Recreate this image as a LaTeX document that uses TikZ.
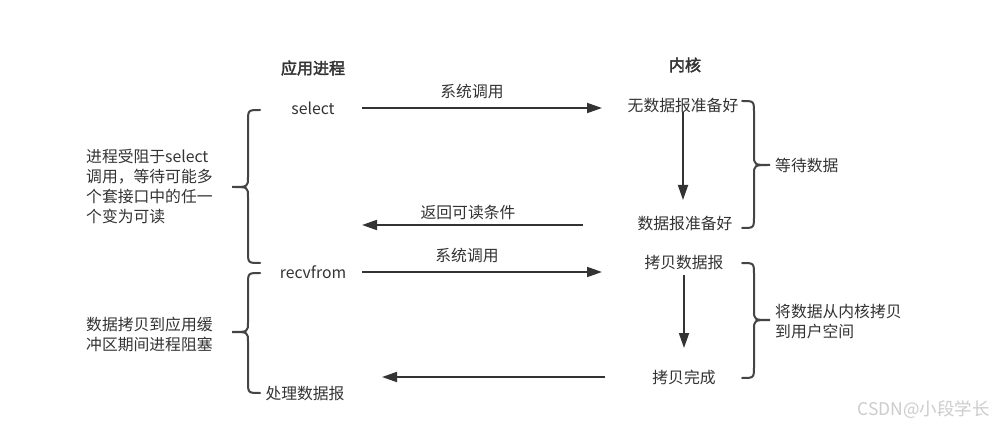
\documentclass[tikz,border=0pt]{standalone}
\usepackage{fontspec}
\setmainfont{Noto Sans CJK SC}[AutoFakeBold=2.5]
\usetikzlibrary{arrows.meta,calc}
\definecolor{ink}{HTML}{333333}
\definecolor{brc}{HTML}{444444}
\newcommand\mybrace[6]{\draw[bracestyle] (#1,#4) .. controls (#2,#4) .. (#2,{#4+12}) -- (#2,{#5-10}) .. controls (#2,#5) .. (#3,#5) .. controls (#2,#5) .. (#2,{#5+10}) -- (#2,{#6-12}) .. controls (#2,#6) .. (#1,#6);}
\begin{document}
\begin{tikzpicture}[x=1pt,y=-1pt,
  txt/.style={inner sep=0pt,text=ink,font=\fontsize{15.8}{20}\selectfont},
  head/.style={txt,font=\fontsize{16}{20}\selectfont\bfseries},
  multi/.style={txt,anchor=west,align=left},
  arr/.style={draw=ink,line width=1.8pt,-{Triangle[length=15pt,width=10pt]}},
  bracestyle/.style={draw=brc,line width=2pt,line cap=round},
  wmark/.style={inner sep=0pt,text=gray!40,font=\fontsize{17.5}{20}\selectfont}]
\useasboundingbox[fill=white] (0,0) rectangle (1000,427);
% headings
\node[head] (app) at (313,68) {应用进程};
\node[head] (kern) at (685,65) {内核};
% app side
\node[txt] (select) at (313,108) {select};
\node[txt] (recv) at (313,272) {recvfrom};
\node[txt] (proc) at (305,394) {处理数据报};
% kernel side
\node[txt] (nodata) at (683,105) {无数据报准备好};
\node[txt] (ready) at (685,223) {数据报准备好};
\node[txt] (copy) at (684,263) {拷贝数据报};
\node[txt] (done) at (684,377) {拷贝完成};
% arrows
\draw[arr] ($(select)+(49,0)$) -- ($(select -| nodata)+(-81,0)$);
\draw[arr] ($(nodata)+(0,7)$) -- ($(nodata |- ready)+(0,-23)$);
\draw[arr] ($(ready)+(-102,2)$) -- ($(ready -| select)+(49,2)$);
\draw[arr] ($(recv)+(49,0)$) -- ($(recv -| copy)+(-82,0)$);
\draw[arr] ($(copy)+(0,12)$) -- ($(copy |- done)+(0,-29)$);
\draw[arr] ($(done)+(-79,0)$) -- ($(done -| proc)+(77,0)$);
% arrow labels
\node[txt] (l1) at (472,92) {系统调用};
\node[txt] (l2) at (468,213) {返回可读条件};
\node[txt] (l3) at (467,256) {系统调用};
% braces
\mybrace{260}{248}{232}{110}{187}{263}
\mybrace{260}{248}{232}{273}{332}{393}
\mybrace{742}{754}{770}{101}{165}{228}
\mybrace{742}{754}{770}{263}{320}{378}
% brace texts
\node[multi] (t1) at (86,187) {进程受阻于select\\调用，等待可能多\\个套接口中的任一\\个变为可读};
\node[multi] (t2) at (86,334) {数据拷贝到应用缓\\冲区期间进程阻塞};
\node[multi] (t3) at (775,165) {等待数据};
\node[multi] (t4) at (775,322) {将数据从内核拷贝\\到用户空间};
% watermark
\node[wmark,anchor=east] (wm) at (990,410) {CSDN@小段学长};
\end{tikzpicture}
\end{document}
